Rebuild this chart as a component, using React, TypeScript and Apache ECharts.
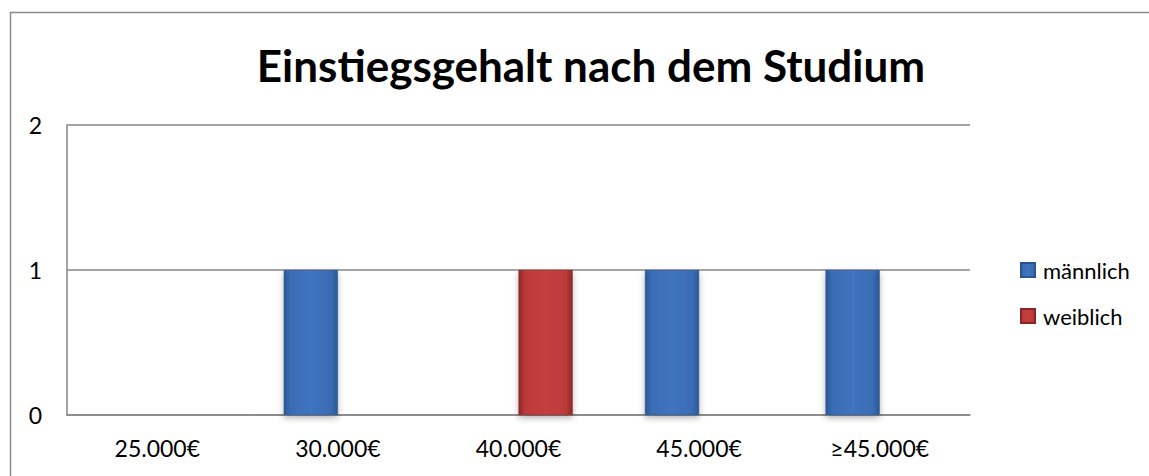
import React, { useEffect, useRef } from "react";
import * as echarts from "echarts";

const categories = ["25.000€", "30.000€", "40.000€", "45.000€", "≥45.000€"];
const maleValues = [0, 1, 0, 1, 1];
const femaleValues = [0, 0, 1, 0, 0];
const seriesNames = ["männlich", "weiblich"];
const titleText = "Einstiegsgehalt nach dem Studium";

const FONT = "Lato, 'Open Sans', sans-serif";

function barGrad(edge: string, mid: string, light: string) {
  return new echarts.graphic.LinearGradient(0, 0, 1, 0, [
    { offset: 0, color: edge },
    { offset: 0.12, color: mid },
    { offset: 0.5, color: light },
    { offset: 0.88, color: mid },
    { offset: 1, color: edge },
  ]);
}

export default function App() {
  const ref = useRef<HTMLDivElement>(null);
  useEffect(() => {
    if (!ref.current) return;
    const chart = echarts.init(ref.current, undefined, { renderer: "svg" });
    const blue = barGrad("#2a5894", "#3a6cb4", "#3f74c0");
    const red = barGrad("#8e2726", "#bb3a39", "#c63f3e");
    chart.setOption({
      animation: false,
      backgroundColor: "#ffffff",
      title: {
        text: titleText,
        left: 586,
        textAlign: "center",
        top: 38,
        textStyle: { fontFamily: FONT, fontWeight: "bold", fontSize: 44, color: "#000" },
      },
      legend: {
        orient: "vertical",
        left: 1015,
        top: 254,
        itemWidth: 14,
        itemHeight: 14,
        itemGap: 24,
        icon: "rect",
        textStyle: { fontFamily: FONT, fontSize: 22, color: "#000", padding: [0, 0, 0, 3] },
        data: seriesNames,
      },
      grid: { left: 67, right: 179, top: 125, bottom: 61, containLabel: false },
      xAxis: {
        type: "category",
        data: categories,
        axisLine: { show: true, lineStyle: { color: "#868686", width: 1.5 } },
        axisTick: { show: false },
        axisLabel: { fontFamily: FONT, fontSize: 23, color: "#000", margin: 21 },
      },
      yAxis: {
        type: "value",
        min: 0,
        max: 2,
        interval: 1,
        axisLine: { show: true, lineStyle: { color: "#868686", width: 1.5 } },
        axisTick: { show: false },
        axisLabel: { fontFamily: FONT, fontSize: 23, color: "#000", margin: 25 },
        splitLine: { show: true, lineStyle: { color: "#868686", width: 1.5 } },
      },
      graphic: [
        {
          type: "rect",
          shape: { x: 10.5, y: 12.5, width: 1200, height: 600 },
          style: { fill: "none", stroke: "#8c8c8c", lineWidth: 1.5 },
          silent: true,
          z: -10,
        },
      ],
      series: [
        {
          name: seriesNames[0],
          type: "bar",
          data: maleValues,
          barWidth: "30%",
          barGap: "0%",
          itemStyle: {
            color: blue,
            borderColor: "#2a5590",
            borderWidth: 0.5,
            shadowBlur: 6,
            shadowOffsetY: 3,
            shadowColor: "rgba(0,0,0,0.3)",
          },
        },
        {
          name: seriesNames[1],
          type: "bar",
          data: femaleValues,
          barWidth: "30%",
          barGap: "0%",
          itemStyle: {
            color: red,
            borderColor: "#8a2625",
            borderWidth: 0.5,
            shadowBlur: 6,
            shadowOffsetY: 3,
            shadowColor: "rgba(0,0,0,0.3)",
          },
        },
      ],
    });
    return () => chart.dispose();
  }, []);
  return (
    <div
      ref={ref}
      style={{ position: "fixed", left: 0, top: 0, width: 1149, height: 476 }}
    />
  );
}
